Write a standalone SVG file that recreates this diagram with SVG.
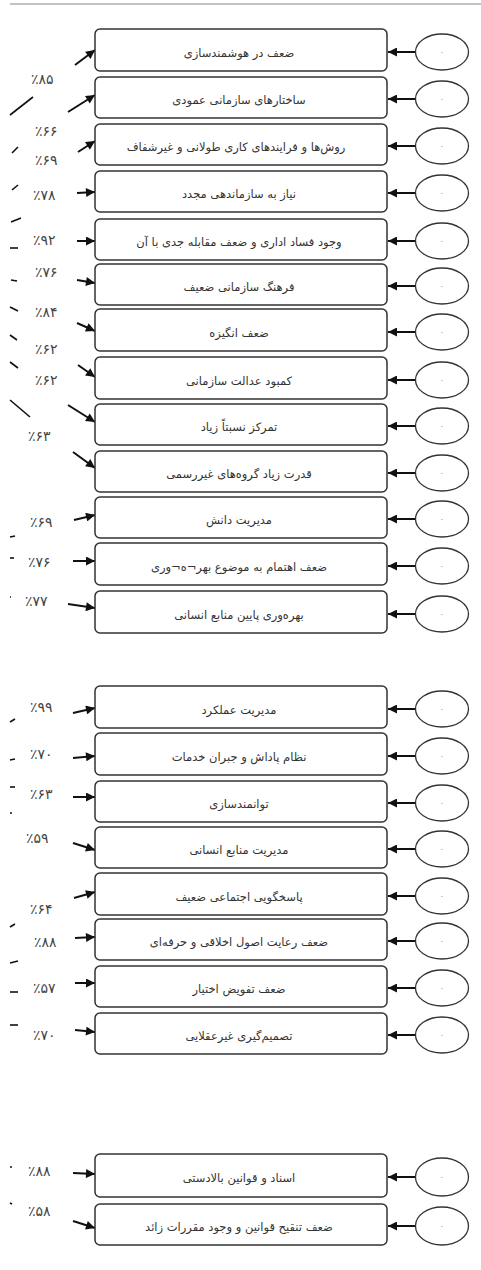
<svg xmlns="http://www.w3.org/2000/svg" width="481" height="1270" viewBox="0 0 481 1270">
<style>
.box{fill:#fff;stroke:#333;stroke-width:1.5}
.ell{fill:#fff;stroke:#333;stroke-width:1.3}
.bt{font-family:"DejaVu Sans",sans-serif;font-size:11.5px;fill:#333;text-anchor:middle;direction:rtl}
.dot{font-family:"DejaVu Sans",sans-serif;font-size:8px;fill:#888;text-anchor:middle}
.pct{font-family:"DejaVu Sans",sans-serif;font-size:14px;fill:#444}
.ar{stroke:#111;stroke-width:2;fill:none;marker-end:url(#ah)}
.ra{stroke:#111;stroke-width:2;fill:none;marker-end:url(#ah2)}
.frag{stroke:#111;stroke-width:1.6;fill:none}
</style>
<defs>
<marker id="ah" viewBox="0 0 10 10" refX="10" refY="5" markerWidth="5" markerHeight="4.5" orient="auto" markerUnits="strokeWidth"><path d="M0,0L10,5L0,10z" fill="#111"/></marker>
<marker id="ah2" viewBox="0 0 10 10" refX="10" refY="5" markerWidth="6" markerHeight="4.5" orient="auto" markerUnits="strokeWidth"><path d="M0,0L10,5L0,10z" fill="#111"/></marker>
</defs>
<line x1="10" y1="4" x2="481" y2="4" stroke="#888" stroke-width="1.2"/>
<g id="fragments">
<line class="frag" x1="10" y1="115" x2="33" y2="97"/>
<line class="frag" x1="12" y1="153" x2="18" y2="147"/>
<line class="frag" x1="12" y1="190" x2="18" y2="185"/>
<line class="frag" x1="11" y1="222" x2="21" y2="218"/>
<line class="frag" x1="10" y1="248" x2="18" y2="248"/>
<line class="frag" x1="11" y1="280" x2="17" y2="281"/>
<line class="frag" x1="10" y1="307" x2="18" y2="311"/>
<line class="frag" x1="10" y1="335" x2="17" y2="340"/>
<line class="frag" x1="10" y1="362" x2="18" y2="368"/>
<line class="frag" x1="10" y1="400" x2="30" y2="417"/>
<line class="frag" x1="10" y1="537" x2="15" y2="536"/>
<line class="frag" x1="10" y1="558" x2="14" y2="558"/>
<line class="frag" x1="10" y1="597" x2="11" y2="597"/>
<line class="frag" x1="10" y1="722" x2="15" y2="719"/>
<line class="frag" x1="10" y1="760" x2="15" y2="759"/>
<line class="frag" x1="10" y1="787" x2="15" y2="787"/>
<line class="frag" x1="10" y1="813" x2="12" y2="813"/>
<line class="frag" x1="10" y1="927" x2="15" y2="924"/>
<line class="frag" x1="10" y1="963" x2="18" y2="961"/>
<line class="frag" x1="10" y1="992" x2="18" y2="992"/>
<line class="frag" x1="10" y1="1025" x2="18" y2="1025"/>
<line class="frag" x1="10" y1="1167" x2="12" y2="1167"/>
<line class="frag" x1="10" y1="1203" x2="12" y2="1204"/>
</g>
<g id="labels">
<text class="pct" x="31" y="84">٪۸۵</text>
<text class="pct" x="35" y="136">٪۶۶</text>
<text class="pct" x="35" y="165">٪۶۹</text>
<text class="pct" x="33" y="200">٪۷۸</text>
<text class="pct" x="33" y="245">٪۹۲</text>
<text class="pct" x="35" y="277">٪۷۶</text>
<text class="pct" x="35" y="317">٪۸۴</text>
<text class="pct" x="35" y="354">٪۶۲</text>
<text class="pct" x="35" y="385">٪۶۲</text>
<text class="pct" x="28" y="441">٪۶۳</text>
<text class="pct" x="30" y="527">٪۶۹</text>
<text class="pct" x="28" y="567">٪۷۶</text>
<text class="pct" x="25" y="606">٪۷۷</text>
<text class="pct" x="30" y="712">٪۹۹</text>
<text class="pct" x="30" y="759">٪۷۰</text>
<text class="pct" x="30" y="799">٪۶۳</text>
<text class="pct" x="26" y="843">٪۵۹</text>
<text class="pct" x="30" y="914">٪۶۴</text>
<text class="pct" x="34" y="947">٪۸۸</text>
<text class="pct" x="33" y="993">٪۵۷</text>
<text class="pct" x="33" y="1040">٪۷۰</text>
<text class="pct" x="28" y="1176">٪۸۸</text>
<text class="pct" x="28" y="1216">٪۵۸</text>
</g>
<g id="connectors">
<line class="ar" x1="75" y1="65" x2="95" y2="50"/>
<line class="ar" x1="68" y1="112" x2="95" y2="95"/>
<line class="ar" x1="78" y1="152" x2="95" y2="141"/>
<line class="ar" x1="77" y1="193" x2="95" y2="192"/>
<line class="ar" x1="77" y1="241" x2="95" y2="241"/>
<line class="ar" x1="77" y1="280" x2="95" y2="283"/>
<line class="ar" x1="77" y1="323" x2="95" y2="331"/>
<line class="ar" x1="78" y1="365" x2="95" y2="377"/>
<line class="ar" x1="68" y1="405" x2="95" y2="422"/>
<line class="ar" x1="73" y1="452" x2="95" y2="468"/>
<line class="ar" x1="74" y1="520" x2="95" y2="515"/>
<line class="ar" x1="73" y1="561" x2="95" y2="561"/>
<line class="ar" x1="68" y1="604" x2="95" y2="608"/>
<line class="ar" x1="73" y1="713" x2="95" y2="708"/>
<line class="ar" x1="73" y1="758" x2="95" y2="756"/>
<line class="ar" x1="73" y1="797" x2="95" y2="797"/>
<line class="ar" x1="73" y1="843" x2="95" y2="850"/>
<line class="ar" x1="74" y1="898" x2="95" y2="892"/>
<line class="ar" x1="75" y1="938" x2="95" y2="937"/>
<line class="ar" x1="75" y1="983" x2="95" y2="983"/>
<line class="ar" x1="75" y1="1030" x2="95" y2="1032"/>
<line class="ar" x1="73" y1="1173" x2="95" y2="1174"/>
<line class="ar" x1="73" y1="1221" x2="95" y2="1228"/>
<line class="ra" x1="416" y1="52" x2="388" y2="52"/>
<line class="ra" x1="416" y1="99" x2="388" y2="99"/>
<line class="ra" x1="416" y1="146" x2="388" y2="146"/>
<line class="ra" x1="416" y1="193" x2="388" y2="193"/>
<line class="ra" x1="416" y1="241" x2="388" y2="241"/>
<line class="ra" x1="416" y1="286" x2="388" y2="286"/>
<line class="ra" x1="416" y1="332" x2="388" y2="332"/>
<line class="ra" x1="416" y1="380" x2="388" y2="380"/>
<line class="ra" x1="416" y1="426" x2="388" y2="426"/>
<line class="ra" x1="416" y1="473" x2="388" y2="473"/>
<line class="ra" x1="416" y1="519" x2="388" y2="519"/>
<line class="ra" x1="416" y1="566" x2="388" y2="566"/>
<line class="ra" x1="416" y1="614" x2="388" y2="614"/>
<line class="ra" x1="416" y1="709" x2="388" y2="709"/>
<line class="ra" x1="416" y1="756" x2="388" y2="756"/>
<line class="ra" x1="416" y1="803" x2="388" y2="803"/>
<line class="ra" x1="416" y1="849" x2="388" y2="849"/>
<line class="ra" x1="416" y1="896" x2="388" y2="896"/>
<line class="ra" x1="416" y1="941" x2="388" y2="941"/>
<line class="ra" x1="416" y1="988" x2="388" y2="988"/>
<line class="ra" x1="416" y1="1035" x2="388" y2="1035"/>
<line class="ra" x1="416" y1="1177" x2="388" y2="1177"/>
<line class="ra" x1="416" y1="1226" x2="388" y2="1226"/>
</g>
<g id="n1"><rect class="box" x="95" y="29" width="292" height="42" rx="5"/><text class="bt" x="239" y="57">ضعف در هوشمندسازی</text></g>
<g id="n2"><rect class="box" x="95" y="77" width="292" height="41" rx="5"/><text class="bt" x="239" y="104">ساختارهای سازمانی عمودی</text></g>
<g id="n3"><rect class="box" x="95" y="124" width="292" height="41" rx="5"/><text class="bt" x="236" y="151">روش‌ها و فرایندهای کاری طولانی و غیرشفاف</text></g>
<g id="n4"><rect class="box" x="95" y="171" width="292" height="41" rx="5"/><text class="bt" x="239" y="198">نیاز به سازماندهی مجدد</text></g>
<g id="n5"><rect class="box" x="95" y="219" width="292" height="41" rx="5"/><text class="bt" x="239" y="246">وجود فساد اداری و  ضعف مقابله جدی با آن</text></g>
<g id="n6"><rect class="box" x="95" y="264" width="292" height="41" rx="5"/><text class="bt" x="239" y="291">فرهنگ سازمانی ضعیف</text></g>
<g id="n7"><rect class="box" x="95" y="309" width="292" height="42" rx="5"/><text class="bt" x="239" y="337">ضعف انگیزه</text></g>
<g id="n8"><rect class="box" x="95" y="357" width="292" height="42" rx="5"/><text class="bt" x="239" y="385">کمبود عدالت سازمانی</text></g>
<g id="n9"><rect class="box" x="95" y="404" width="292" height="41" rx="5"/><text class="bt" x="239" y="431">تمرکز نسبتاً زیاد</text></g>
<g id="n10"><rect class="box" x="95" y="451" width="292" height="41" rx="5"/><text class="bt" x="239" y="478">قدرت زیاد گروه‌های غیررسمی</text></g>
<g id="n11"><rect class="box" x="95" y="497" width="292" height="41" rx="5"/><text class="bt" x="239" y="524">مدیریت دانش</text></g>
<g id="n12"><rect class="box" x="95" y="543" width="292" height="42" rx="5"/><text class="bt" x="239" y="571">ضعف اهتمام به موضوع بهر¬ه¬وری</text></g>
<g id="n13"><rect class="box" x="95" y="591" width="292" height="42" rx="5"/><text class="bt" x="239" y="619">بهره‌وری پایین منابع انسانی</text></g>
<g id="n14"><rect class="box" x="95" y="686" width="292" height="42" rx="5"/><text class="bt" x="239" y="714">مدیریت عملکرد</text></g>
<g id="n15"><rect class="box" x="95" y="733" width="292" height="42" rx="5"/><text class="bt" x="239" y="761">نظام پاداش و جبران خدمات</text></g>
<g id="n16"><rect class="box" x="95" y="781" width="292" height="41" rx="5"/><text class="bt" x="239" y="808">توانمندسازی</text></g>
<g id="n17"><rect class="box" x="95" y="827" width="292" height="41" rx="5"/><text class="bt" x="239" y="854">مدیریت منابع انسانی</text></g>
<g id="n18"><rect class="box" x="95" y="873" width="292" height="42" rx="5"/><text class="bt" x="239" y="901">پاسخگویی اجتماعی ضعیف</text></g>
<g id="n19"><rect class="box" x="95" y="919" width="292" height="41" rx="5"/><text class="bt" x="239" y="946">ضعف رعایت اصول اخلاقی و حرفه‌ای</text></g>
<g id="n20"><rect class="box" x="95" y="966" width="292" height="41" rx="5"/><text class="bt" x="239" y="993">ضعف تفویض اختیار</text></g>
<g id="n21"><rect class="box" x="95" y="1013" width="292" height="41" rx="5"/><text class="bt" x="239" y="1040">تصمیم‌گیری غیرعقلایی</text></g>
<g id="n22"><rect class="box" x="95" y="1154" width="292" height="43" rx="5"/><text class="bt" x="239" y="1182">اسناد و قوانین بالادستی</text></g>
<g id="n23"><rect class="box" x="95" y="1204" width="292" height="41" rx="5"/><text class="bt" x="239" y="1231">ضعف تنقیح قوانین و وجود مقررات زائد</text></g>
<g id="e1"><ellipse class="ell" cx="442" cy="52" rx="26.5" ry="18"/><text class="dot" x="442" y="55">٠</text></g>
<g id="e2"><ellipse class="ell" cx="442" cy="99" rx="26.5" ry="18"/><text class="dot" x="442" y="102">٠</text></g>
<g id="e3"><ellipse class="ell" cx="442" cy="146" rx="26.5" ry="18"/><text class="dot" x="442" y="149">٠</text></g>
<g id="e4"><ellipse class="ell" cx="442" cy="193" rx="26.5" ry="18"/><text class="dot" x="442" y="196">٠</text></g>
<g id="e5"><ellipse class="ell" cx="442" cy="241" rx="26.5" ry="18"/><text class="dot" x="442" y="244">٠</text></g>
<g id="e6"><ellipse class="ell" cx="442" cy="286" rx="26.5" ry="18"/><text class="dot" x="442" y="289">٠</text></g>
<g id="e7"><ellipse class="ell" cx="442" cy="332" rx="26.5" ry="18"/><text class="dot" x="442" y="335">٠</text></g>
<g id="e8"><ellipse class="ell" cx="442" cy="380" rx="26.5" ry="18"/><text class="dot" x="442" y="383">٠</text></g>
<g id="e9"><ellipse class="ell" cx="442" cy="426" rx="26.5" ry="18"/><text class="dot" x="442" y="429">٠</text></g>
<g id="e10"><ellipse class="ell" cx="442" cy="473" rx="26.5" ry="18"/><text class="dot" x="442" y="476">٠</text></g>
<g id="e11"><ellipse class="ell" cx="442" cy="519" rx="26.5" ry="18"/><text class="dot" x="442" y="522">٠</text></g>
<g id="e12"><ellipse class="ell" cx="442" cy="566" rx="26.5" ry="18"/><text class="dot" x="442" y="569">٠</text></g>
<g id="e13"><ellipse class="ell" cx="442" cy="614" rx="26.5" ry="18"/><text class="dot" x="442" y="617">٠</text></g>
<g id="e14"><ellipse class="ell" cx="442" cy="709" rx="26.5" ry="18"/><text class="dot" x="442" y="712">٠</text></g>
<g id="e15"><ellipse class="ell" cx="442" cy="756" rx="26.5" ry="18"/><text class="dot" x="442" y="759">٠</text></g>
<g id="e16"><ellipse class="ell" cx="442" cy="803" rx="26.5" ry="18"/><text class="dot" x="442" y="806">٠</text></g>
<g id="e17"><ellipse class="ell" cx="442" cy="849" rx="26.5" ry="18"/><text class="dot" x="442" y="852">٠</text></g>
<g id="e18"><ellipse class="ell" cx="442" cy="896" rx="26.5" ry="18"/><text class="dot" x="442" y="899">٠</text></g>
<g id="e19"><ellipse class="ell" cx="442" cy="941" rx="26.5" ry="18"/><text class="dot" x="442" y="944">٠</text></g>
<g id="e20"><ellipse class="ell" cx="442" cy="988" rx="26.5" ry="18"/><text class="dot" x="442" y="991">٠</text></g>
<g id="e21"><ellipse class="ell" cx="442" cy="1035" rx="26.5" ry="18"/><text class="dot" x="442" y="1038">٠</text></g>
<g id="e22"><ellipse class="ell" cx="442" cy="1177" rx="26.5" ry="19"/><text class="dot" x="442" y="1180">٠</text></g>
<g id="e23"><ellipse class="ell" cx="442" cy="1226" rx="26.5" ry="19"/><text class="dot" x="442" y="1229">٠</text></g>
</svg>
